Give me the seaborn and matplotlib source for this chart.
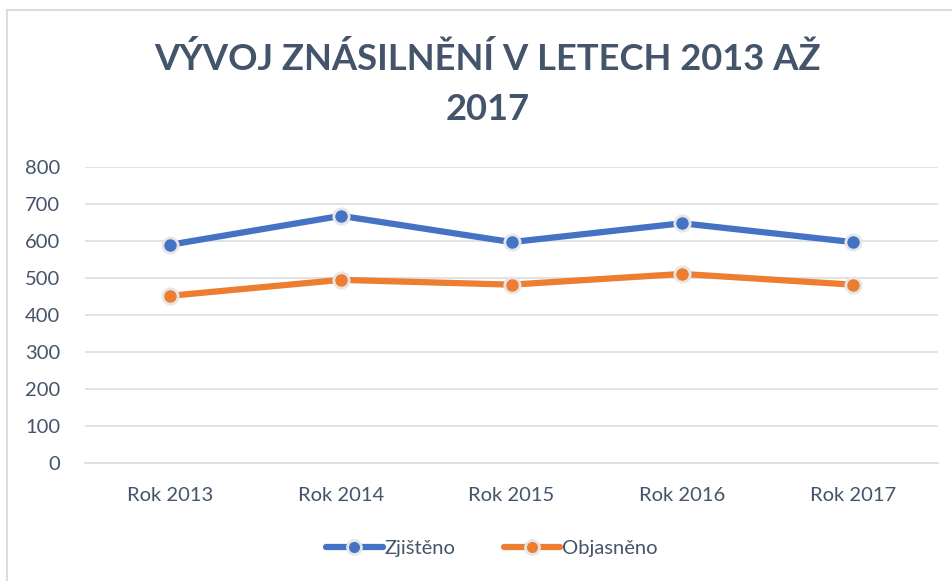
import matplotlib
matplotlib.use("Agg")
import matplotlib.pyplot as plt
import seaborn as sns
import pandas as pd
from matplotlib.patches import Rectangle
from matplotlib.lines import Line2D

categories = ["Rok 2013", "Rok 2014", "Rok 2015", "Rok 2016", "Rok 2017"]
zjisteno = [590, 668, 597, 648, 597]
objasneno = [452, 495, 482, 511, 482]
series_names = ["Zjištěno", "Objasněno"]
yticks = [0, 100, 200, 300, 400, 500, 600, 700, 800]
title = "VÝVOJ ZNÁSILNĚNÍ V LETECH 2013 AŽ\n2017"

colors = ["#4472C4", "#ED7D31"]
text_color = "#44546A"

df = pd.DataFrame({
    "Rok": categories * 2,
    "Hodnota": zjisteno + objasneno,
    "Série": [series_names[0]] * len(categories) + [series_names[1]] * len(categories),
})

sns.set_theme(style="white")
plt.rcParams["font.family"] = ["Lato", "DejaVu Sans"]

W, H = 953, 581
fig = plt.figure(figsize=(W / 100, H / 100), dpi=100)
ax = fig.add_axes([85 / W, 1 - 463 / H, (938 - 85) / W, (463 - 167) / H])

sns.lineplot(data=df, x="Rok", y="Hodnota", hue="Série", palette=colors,
             linewidth=4.5, marker="o", markersize=11, markeredgecolor="#E6E6E6",
             markeredgewidth=2, sort=False, ax=ax, legend=False)

ax.set_xlim(-0.5, len(categories) - 0.5)
ax.set_ylim(0, 800)
ax.set_yticks(yticks)
ax.set_yticklabels([str(v) for v in yticks])
ax.set_xticks(range(len(categories)))
ax.set_xticklabels(categories)
ax.set_xlabel("")
ax.set_ylabel("")
ax.grid(axis="y", color="#D9DDE3", linewidth=1.2)
ax.set_axisbelow(True)
for s in ["top", "right", "left"]:
    ax.spines[s].set_visible(False)
ax.spines["bottom"].set_color("#D9DDE3")
ax.spines["bottom"].set_linewidth(1.2)
ax.tick_params(axis="both", length=0, labelsize=14.5, colors=text_color)
ax.tick_params(axis="y", pad=18)
ax.tick_params(axis="x", pad=17)

fig.text(488 / W, 1 - 84 / H, title, ha="center", va="center", fontsize=26.2,
         fontweight="bold", color=text_color, linespacing=1.6)

# chart border
fig.patches.append(Rectangle((7 / W, -0.05), 1.2, 1 - 10 / H + 0.05,
                             transform=fig.transFigure, fill=False,
                             edgecolor="#D9DDE3", linewidth=1.5))

handles = [Line2D([0], [0], color=c, linewidth=4.5, marker="o", markersize=10,
                  markeredgecolor="#E6E6E6", markeredgewidth=2) for c in colors]
fig.legend(handles, series_names, loc="center", bbox_to_anchor=(492 / W, 1 - 548 / H),
           ncol=2, frameon=False, fontsize=14.5, labelcolor=text_color,
           handlelength=2.8, handletextpad=0.1, columnspacing=2.4)

fig.savefig("out.png", dpi=100)
